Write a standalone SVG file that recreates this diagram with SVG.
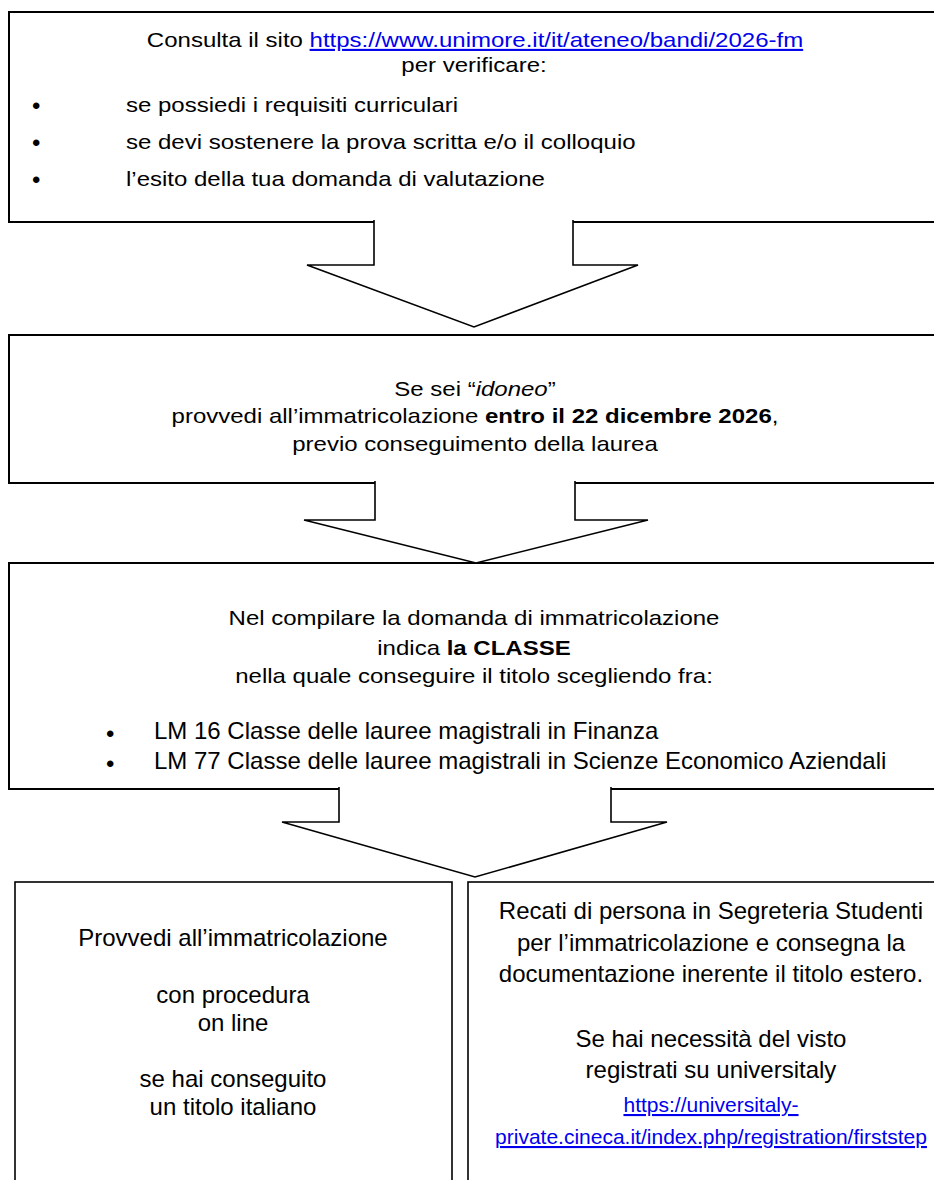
<svg xmlns="http://www.w3.org/2000/svg" width="934" height="1180" viewBox="0 0 934 1180">
<style>
  .box { fill: #ffffff; stroke: #000000; stroke-width: 2; }
  .box2 { fill: #ffffff; stroke: #000000; stroke-width: 1.6; }
  .arrow { fill: #ffffff; stroke: #000000; stroke-width: 1.6; stroke-linejoin: miter; }
  .t { font-family: "Liberation Sans", Arial, sans-serif; font-size: 21px; fill: #000000; }
  .tf { font-family: "Liberation Sans", Arial, sans-serif; font-size: 24px; fill: #000000; }
  .tb { font-family: "Liberation Sans", Arial, sans-serif; font-size: 24px; fill: #000000; text-anchor: middle; }
  .mid { text-anchor: middle; }
  .link { fill: #0000ee; text-decoration: underline; }
  .lk { font-family: "Liberation Sans", Arial, sans-serif; font-size: 21px; fill: #0000ee; text-decoration: underline; text-anchor: middle; }
  .b { font-weight: bold; }
  .i { font-style: italic; }
</style>
<rect width="934" height="1180" fill="#ffffff"/>

<g id="node-consulta">
  <rect class="box" x="9" y="12" width="940" height="210"/>
  <g transform="translate(475,47) scale(1.143,1)"><text class="t mid" x="0" y="0">Consulta il sito <tspan class="link">https://www.unimore.it/it/ateneo/bandi/2026-fm</tspan></text></g>
  <g transform="translate(474,72) scale(1.143,1)"><text class="t mid" x="0" y="0">per verificare:</text></g>
  <text class="tf" x="32" y="114">•</text>
  <g transform="translate(126,112) scale(1.143,1)"><text class="t" x="0" y="0">se possiedi i requisiti curriculari</text></g>
  <text class="tf" x="32" y="151">•</text>
  <g transform="translate(126,149) scale(1.143,1)"><text class="t" x="0" y="0">se devi sostenere la prova scritta e/o il colloquio</text></g>
  <text class="tf" x="32" y="188">•</text>
  <g transform="translate(126,186) scale(1.143,1)"><text class="t" x="0" y="0">l’esito della tua domanda di valutazione</text></g>
</g>

<g id="node-idoneo">
  <rect class="box" x="9" y="335" width="940" height="148"/>
  <g transform="translate(475,396) scale(1.143,1)"><text class="t mid" x="0" y="0">Se sei “<tspan class="i">idoneo</tspan>”</text></g>
  <g transform="translate(475,423) scale(1.143,1)"><text class="t mid" x="0" y="0">provvedi all’immatricolazione <tspan class="b">entro il 22 dicembre 2026</tspan>,</text></g>
  <g transform="translate(475,451) scale(1.143,1)"><text class="t mid" x="0" y="0">previo conseguimento della laurea</text></g>
</g>

<g id="node-classe">
  <rect class="box" x="9" y="563" width="940" height="226"/>
  <g transform="translate(474,625) scale(1.143,1)"><text class="t mid" x="0" y="0">Nel compilare la domanda di immatricolazione</text></g>
  <g transform="translate(474,655) scale(1.143,1)"><text class="t mid" x="0" y="0">indica <tspan class="b">la CLASSE</tspan></text></g>
  <g transform="translate(474,683) scale(1.143,1)"><text class="t mid" x="0" y="0">nella quale conseguire il titolo scegliendo fra:</text></g>
  <text class="tf" x="106" y="742" font-size="19">•</text>
  <text class="tf" x="154" y="739">LM 16 Classe delle lauree magistrali in Finanza</text>
  <text class="tf" x="106" y="772" font-size="19">•</text>
  <text class="tf" x="154" y="769">LM 77 Classe delle lauree magistrali in Scienze Economico Aziendali</text>
</g>

<g id="node-online">
  <rect class="box2" x="15" y="882" width="437" height="320"/>
  <text class="tb" x="233" y="946">Provvedi all’immatricolazione</text>
  <text class="tb" x="233" y="1003">con procedura</text>
  <text class="tb" x="233" y="1031">on line</text>
  <text class="tb" x="233" y="1087">se hai conseguito</text>
  <text class="tb" x="233" y="1115"> un titolo italiano</text>
</g>

<g id="node-segreteria">
  <rect class="box2" x="468" y="882" width="480" height="320"/>
  <text class="tb" x="711" y="919">Recati di persona in Segreteria Studenti</text>
  <text class="tb" x="711" y="951">per l’immatricolazione e consegna la</text>
  <text class="tb" x="711" y="982">documentazione inerente il titolo estero.</text>
  <text class="tb" x="711" y="1047">Se hai necessità del visto</text>
  <text class="tb" x="711" y="1078">registrati su universitaly</text>
  <text class="lk" x="711" y="1112">https://universitaly-</text>
  <text class="lk" x="711" y="1144">private.cineca.it/index.php/registration/firststep</text>
</g>

<g id="connectors">
  <path class="arrow" d="M374,220 V265 H307 L474,327 L638,265 H573 V220"/>
  <path class="arrow" d="M375,481 V520 H304 L476,563 L648,520 H575 V481"/>
  <path class="arrow" d="M339,787 V822 H282 L475,877 L667,822 H611 V787"/>
</g>
</svg>
